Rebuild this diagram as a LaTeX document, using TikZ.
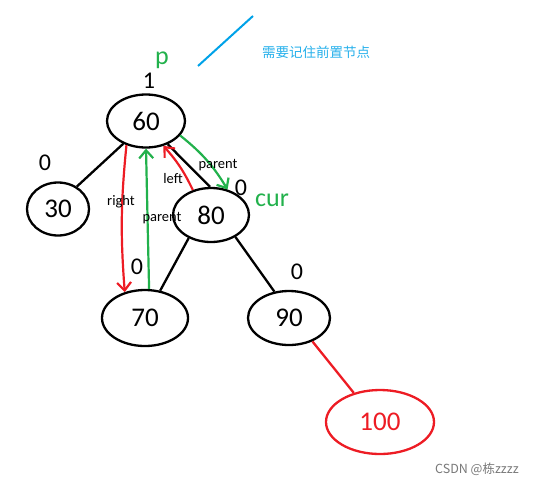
\documentclass[tikz,border=0pt]{standalone}
\usepackage{fontspec}
\setmainfont{Carlito}
\newfontfamily\cjk{Noto Sans CJK SC}
\usetikzlibrary{shapes.geometric,arrows.meta}
\definecolor{pred}{RGB}{237,28,36}
\definecolor{pgreen}{RGB}{34,177,76}
\definecolor{pblue}{RGB}{0,162,232}
\definecolor{mgray}{RGB}{120,120,120}
\tikzset{
  vnode/.style={ellipse,draw=black,line width=2.3pt,inner sep=0pt,font=\fontsize{27}{27}\selectfont},
  vnew/.style={vnode,draw=pred,text=pred},
  bf/.style={font=\fontsize{24}{24}\selectfont},
  ptr/.style={font=\fontsize{26}{26}\selectfont,text=pgreen},
  lbl/.style={font=\fontsize{14.5}{14.5}\selectfont},
  et/.style={draw=black,line width=2.3pt},
  enew/.style={draw=pred,line width=2.3pt},
  ar/.style={->,>={Straight Barb[length=8pt,width=14pt]},draw=pred,line width=2.2pt},
  ag/.style={->,>={Straight Barb[length=8pt,width=14pt]},draw=pgreen,line width=2.2pt},
}
\begin{document}
\begin{tikzpicture}[x=1pt,y=-1pt]
\useasboundingbox (0,0) rectangle (534,485);
% tree
\node[vnode,minimum width=78pt,minimum height=53pt] (n60) at (146,121) {60};
\node[vnode,minimum width=62pt,minimum height=53pt] (n30) at (58,209) {30};
\node[vnode,minimum width=76pt,minimum height=54pt] (n80) at (211,215) {80};
\node[vnode,minimum width=86pt,minimum height=56pt] (n70) at (145,318) {70};
\node[vnode,minimum width=82pt,minimum height=54pt] (n90) at (289,318) {90};
\node[vnew,minimum width=108pt,minimum height=64pt] (n100) at (380,422) {100};
% balance factors
\node[bf] (b60) at (149,81) {1};
\node[bf] (b30) at (45,163) {0};
\node[bf] (b80) at (241,188) {0};
\node[bf] (b70) at (137,267) {0};
\node[bf] (b90) at (297,272) {0};
\node[ptr] (tp) at (162,60) {p};
\node[ptr] (tcur) at (272,200) {cur};
\draw[et] (n60.225) -- (n30.50);
\draw[et] (n60.313) -- (n80.92);
\draw[et] (n80.226) -- (n70.61);
\draw[et] (n80.318) -- (n90.119);
\draw[enew] (n90.315) -- (n100.132);
% pointer moves
\draw[ar] (n60.231) to[bend right=5] (n70.128);
\draw[ag] (n70.82) -- (n60.270);
\draw[ar] (n80.126) to[bend right=8] (n60.305);
\draw[ag] (n60.337) to[bend left=10] (n80.57);
\node[lbl] (lright) at (121,202) {right};
\node[lbl] (lpar1) at (162,218) {parent};
\node[lbl] (lleft) at (173,179) {left};
\node[lbl] (lpar2) at (218,165) {parent};
% note
\coordinate (c1) at (198,66);
\coordinate (c2) at (253,16);
\draw[pblue,line width=2pt] (c1) -- (c2);
\node[text=pblue!85,font=\cjk\fontsize{13.5}{13.5}\selectfont] (note) at (316,52) {需要记住前置节点};
\node[text=mgray,font=\cjk\fontsize{12.5}{12.5}\selectfont] (wm) at (477,469) {CSDN @栋zzzz};
\end{tikzpicture}
\end{document}
